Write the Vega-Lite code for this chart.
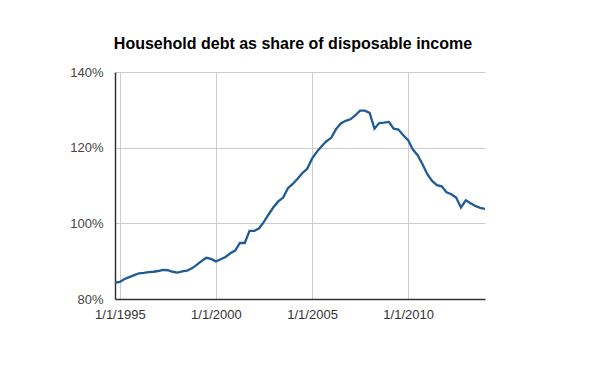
{
  "$schema": "https://vega.github.io/schema/vega-lite/v6.json",
  "autosize": {"type": "none"},
  "width": 370,
  "height": 227,
  "padding": {"left": 115, "top": 72, "right": 115, "bottom": 72},
  "background": "white",
  "title": {
    "text": "Household debt as share of disposable income",
    "font": "Liberation Sans",
    "fontSize": 16,
    "fontWeight": "bold",
    "color": "#000000",
    "anchor": "middle",
    "offset": 14,
    "dx": -7
  },
  "data": {
    "values": [
      {"date": "1994-10-01", "v": 84.3},
      {"date": "1995-01-01", "v": 84.5},
      {"date": "1995-04-01", "v": 85.3},
      {"date": "1995-07-01", "v": 85.8},
      {"date": "1995-10-01", "v": 86.3},
      {"date": "1996-01-01", "v": 86.8},
      {"date": "1996-04-01", "v": 86.9},
      {"date": "1996-07-01", "v": 87.1},
      {"date": "1996-10-01", "v": 87.2},
      {"date": "1997-01-01", "v": 87.4},
      {"date": "1997-04-01", "v": 87.7},
      {"date": "1997-07-01", "v": 87.6},
      {"date": "1997-10-01", "v": 87.2},
      {"date": "1998-01-01", "v": 87.0},
      {"date": "1998-04-01", "v": 87.3},
      {"date": "1998-07-01", "v": 87.5},
      {"date": "1998-10-01", "v": 88.1},
      {"date": "1999-01-01", "v": 89.0},
      {"date": "1999-04-01", "v": 90.0},
      {"date": "1999-07-01", "v": 90.9},
      {"date": "1999-10-01", "v": 90.6},
      {"date": "2000-01-01", "v": 89.9},
      {"date": "2000-04-01", "v": 90.5},
      {"date": "2000-07-01", "v": 91.1},
      {"date": "2000-10-01", "v": 92.1},
      {"date": "2001-01-01", "v": 92.8},
      {"date": "2001-04-01", "v": 94.8},
      {"date": "2001-07-01", "v": 94.8},
      {"date": "2001-10-01", "v": 98.0},
      {"date": "2002-01-01", "v": 98.0},
      {"date": "2002-04-01", "v": 98.7},
      {"date": "2002-07-01", "v": 100.4},
      {"date": "2002-10-01", "v": 102.4},
      {"date": "2003-01-01", "v": 104.3},
      {"date": "2003-04-01", "v": 105.8},
      {"date": "2003-07-01", "v": 106.8},
      {"date": "2003-10-01", "v": 109.3},
      {"date": "2004-01-01", "v": 110.4},
      {"date": "2004-04-01", "v": 111.8},
      {"date": "2004-07-01", "v": 113.3},
      {"date": "2004-10-01", "v": 114.4},
      {"date": "2005-01-01", "v": 117.1},
      {"date": "2005-04-01", "v": 118.9},
      {"date": "2005-07-01", "v": 120.4},
      {"date": "2005-10-01", "v": 121.7},
      {"date": "2006-01-01", "v": 122.6},
      {"date": "2006-04-01", "v": 124.9},
      {"date": "2006-07-01", "v": 126.4},
      {"date": "2006-10-01", "v": 127.1},
      {"date": "2007-01-01", "v": 127.5},
      {"date": "2007-04-01", "v": 128.5},
      {"date": "2007-07-01", "v": 129.8},
      {"date": "2007-10-01", "v": 129.8},
      {"date": "2008-01-01", "v": 129.2},
      {"date": "2008-04-01", "v": 125.0},
      {"date": "2008-07-01", "v": 126.5},
      {"date": "2008-10-01", "v": 126.6},
      {"date": "2009-01-01", "v": 126.8},
      {"date": "2009-04-01", "v": 125.0},
      {"date": "2009-07-01", "v": 124.8},
      {"date": "2009-10-01", "v": 123.3},
      {"date": "2010-01-01", "v": 122.0},
      {"date": "2010-04-01", "v": 119.5},
      {"date": "2010-07-01", "v": 118.0},
      {"date": "2010-10-01", "v": 115.6},
      {"date": "2011-01-01", "v": 113.0},
      {"date": "2011-04-01", "v": 111.2},
      {"date": "2011-07-01", "v": 110.1},
      {"date": "2011-10-01", "v": 109.8},
      {"date": "2012-01-01", "v": 108.2},
      {"date": "2012-04-01", "v": 107.7},
      {"date": "2012-07-01", "v": 106.8},
      {"date": "2012-10-01", "v": 104.2},
      {"date": "2013-01-01", "v": 106.1},
      {"date": "2013-04-01", "v": 105.3},
      {"date": "2013-07-01", "v": 104.6},
      {"date": "2013-10-01", "v": 104.1},
      {"date": "2014-01-01", "v": 103.8}
    ]
  },
  "mark": {"type": "line", "color": "#1f5b95", "strokeWidth": 2.3, "clip": true},
  "encoding": {
    "x": {
      "field": "date",
      "type": "temporal",
      "scale": {
        "type": "utc",
        "domain": [
          {"year": 1994, "month": 10, "date": 1, "utc": true},
          {"year": 2014, "month": 1, "date": 1, "utc": true}
        ],
        "nice": false
      },
      "axis": {
        "title": null,
        "values": [
          {"year": 1995, "month": 1, "date": 1, "utc": true},
          {"year": 2000, "month": 1, "date": 1, "utc": true},
          {"year": 2005, "month": 1, "date": 1, "utc": true},
          {"year": 2010, "month": 1, "date": 1, "utc": true}
        ],
        "format": "%-m/%-d/%Y",
        "labelFont": "Liberation Sans",
        "labelFontSize": 13,
        "labelColor": "#333333",
        "labelPadding": 9,
        "ticks": false,
        "domainColor": "#333333",
        "domainWidth": 1.5,
        "grid": true,
        "gridColor": "#cccccc",
        "labelFlush": false
      }
    },
    "y": {
      "field": "v",
      "type": "quantitative",
      "scale": {"domain": [80, 140], "nice": false, "zero": false},
      "axis": {
        "title": null,
        "values": [80, 100, 120, 140],
        "labelExpr": "datum.value + '%'",
        "labelFont": "Liberation Sans",
        "labelFontSize": 13,
        "labelColor": "#444444",
        "labelPadding": 12,
        "ticks": false,
        "domainColor": "#333333",
        "domainWidth": 1.5,
        "grid": true,
        "gridColor": "#cccccc"
      }
    }
  },
  "config": {"view": {"stroke": null}}
}
